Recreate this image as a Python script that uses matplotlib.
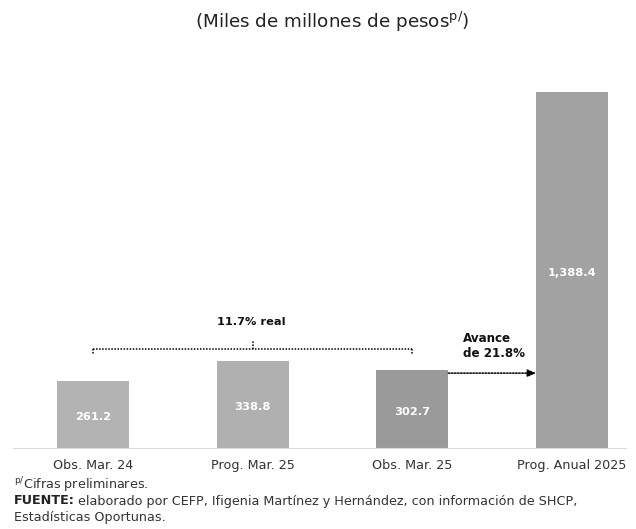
import matplotlib
matplotlib.use("Agg")
import matplotlib.pyplot as plt

categories = ["Obs. Mar. 24", "Prog. Mar. 25", "Obs. Mar. 25", "Prog. Anual 2025"]
values = [261.2, 338.8, 302.7, 1388.4]
value_labels = ["261.2", "338.8", "302.7", "1,388.4"]
bar_colors = ["#b3b3b3", "#b0b0b0", "#9a9a9a", "#a2a2a2"]

plt.rcParams["font.family"] = ["DejaVu Sans"]
plt.rcParams["mathtext.fontset"] = "dejavusans"

W, H = 636, 529
fig = plt.figure(figsize=(W / 100, H / 100), dpi=100)
ax = fig.add_axes([0, 81 / H, 1, 371.8 / H])
ax.set_xlim(-0.5825, 3.4008)
ax.set_ylim(0, 1450)

x = list(range(len(categories)))
ax.bar(x, values, width=0.451, color=bar_colors, zorder=2)

for xi, v, lab in zip(x, values, value_labels):
    ax.text(xi, v / 2 - 10, lab, ha="center", va="center", color="white",
            fontsize=8.2, fontweight="bold")

for s in ["top", "right", "left"]:
    ax.spines[s].set_visible(False)
ax.spines["bottom"].set_color("#dcdcdc")
ax.spines["bottom"].set_bounds(-0.5, 3.34)
ax.set_yticks([])
ax.set_xticks(x)
ax.set_xticklabels(categories, fontsize=9.2, color="#333333")
ax.tick_params(axis="x", length=0, pad=8)

# bracket 11.7% real
dot = (0, (1, 1))
ax.plot([0, 2], [386, 386], color="black", lw=1.1, linestyle=dot)
ax.plot([0, 0], [386, 362], color="black", lw=1.1, linestyle=dot)
ax.plot([2, 2], [386, 362], color="black", lw=1.1, linestyle=dot)
ax.plot([1, 1], [386, 418], color="black", lw=1.1, linestyle=dot)
ax.text(0.99, 491, "11.7% real", ha="center", va="center", fontsize=8.2,
        fontweight="bold", color="#111111")

# arrow avance
ax.annotate("", xy=(2.775, 292), xytext=(2.226, 292),
            arrowprops=dict(arrowstyle="-|>,head_length=0.5,head_width=0.22",
                            color="black", lw=1.1, linestyle=dot,
                            shrinkA=0, shrinkB=0))
ax.text(2.32, 398, "Avance\nde 21.8%", ha="left", va="center", fontsize=8.6,
        fontweight="bold", color="#111111", linespacing=1.15)

# title
fig.text(332 / W, 1 - 22 / H, r"(Miles de millones de pesos$^{\mathrm{p/}}$)",
         ha="center", va="center", fontsize=13.2, color="#222222")

# footnotes
FS = 9.2
x0 = 14 / W
fig.text(x0, 1 - 485 / H, r"$^{\mathrm{p/}}$Cifras preliminares.",
         ha="left", va="center", fontsize=FS, color="#333333")
t_b = fig.text(x0, 1 - 501 / H, "FUENTE:", ha="left", va="center",
               fontsize=FS, fontweight="bold", color="#222222")
fig.canvas.draw()
bb = t_b.get_window_extent(renderer=fig.canvas.get_renderer())
fig.text((bb.x1 + 3) / W, 1 - 501 / H,
         "elaborado por CEFP, Ifigenia Martínez y Hernández, con información de SHCP,",
         ha="left", va="center", fontsize=FS, color="#333333")
fig.text(x0, 1 - 518 / H, "Estadísticas Oportunas.",
         ha="left", va="center", fontsize=FS, color="#333333")

fig.savefig("out.png", dpi=100)
